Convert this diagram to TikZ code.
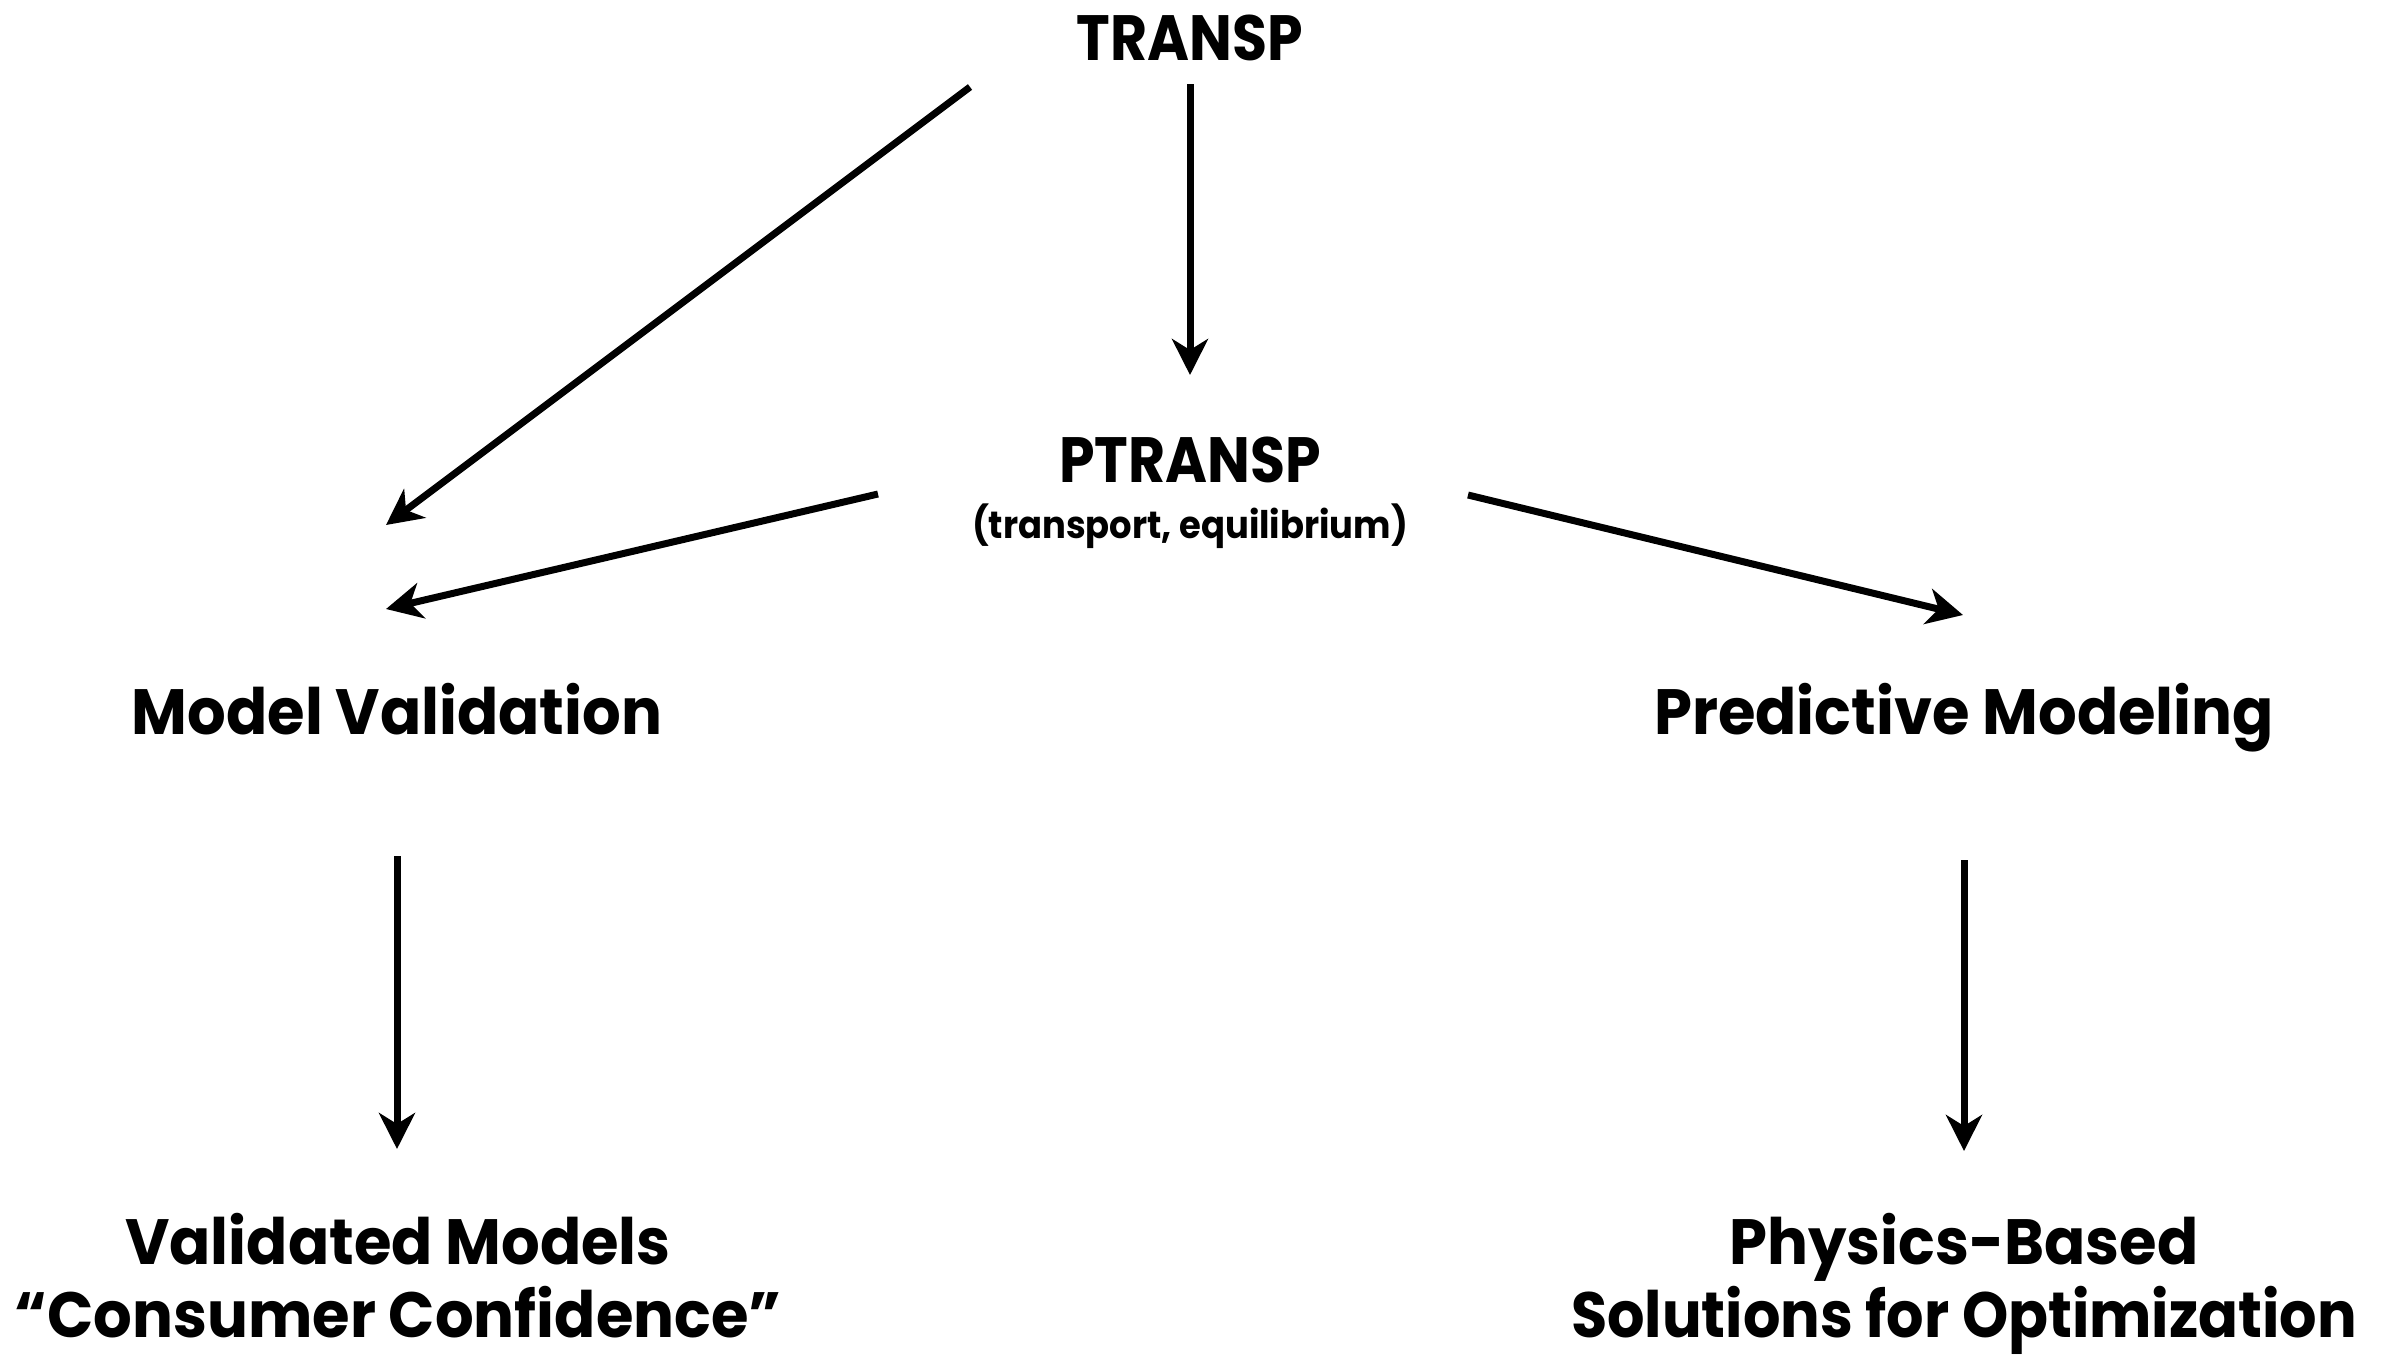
\documentclass[tikz,border=0pt]{standalone}
\usepackage{fontspec}
\setmainfont{Poppins}[FakeStretch=0.95]
\newfontfamily\capsfont{Poppins}[FakeStretch=0.89]
\newfontfamily\subfont{Poppins}[FakeStretch=0.93]
\newfontfamily\narrowfont{Poppins}[FakeStretch=0.92]
\usetikzlibrary{arrows.meta}
\begin{document}
\begin{tikzpicture}[x=0.5pt,y=-0.5pt,
  lbl/.style={font=\fontsize{32}{36.5}\selectfont\bfseries, inner sep=0, align=center, anchor=base},
  capslbl/.style={font=\capsfont\fontsize{32}{36.5}\selectfont\bfseries, inner sep=0, anchor=base},
  sublbl/.style={font=\subfont\fontsize{19}{22}\selectfont\bfseries, inner sep=0, anchor=base},
  arr/.style={line width=3.5pt, -{Stealth[length=18pt,width=18pt,inset=5.5pt]}}]
\useasboundingbox (0,0) rectangle (2383,1355);
\node[capslbl] (tr) at (1190,60) {TRANSP};
\node[capslbl] (pt) at (1190,482) {PTRANSP};
\node[sublbl] (ptsub) at (1190,538) {(transport, equilibrium)};
\node[lbl] (mv) at (397,734) {Model Validation};
\node[lbl] (pm) at (1964,734) {Predictive Modeling};
\node[lbl] (vm) at (398,1337) {Validated Models\\“Consumer Confidence”};
\node[lbl] (pb) at (1964,1337) {Physics-Based\\{\narrowfont\bfseries Solutions for Optimization}};
% connector end points
\coordinate (trA) at (1190,84);
\coordinate (ptA) at (1190,375);
\coordinate (trB) at (970,87);
\coordinate (mvA) at (386,525);
\coordinate (ptB) at (878,494);
\coordinate (mvB) at (386,609);
\coordinate (ptC) at (1468,495);
\coordinate (pmA) at (1963,615);
\coordinate (mvC) at (397,856);
\coordinate (vmA) at (397,1149);
\coordinate (pmB) at (1964,860);
\coordinate (pbA) at (1964,1151);
\draw[arr] (trA) -- (ptA);
\draw[arr] (trB) -- (mvA);
\draw[arr] (ptB) -- (mvB);
\draw[arr] (ptC) -- (pmA);
\draw[arr] (mvC) -- (vmA);
\draw[arr] (pmB) -- (pbA);
\end{tikzpicture}
\end{document}
